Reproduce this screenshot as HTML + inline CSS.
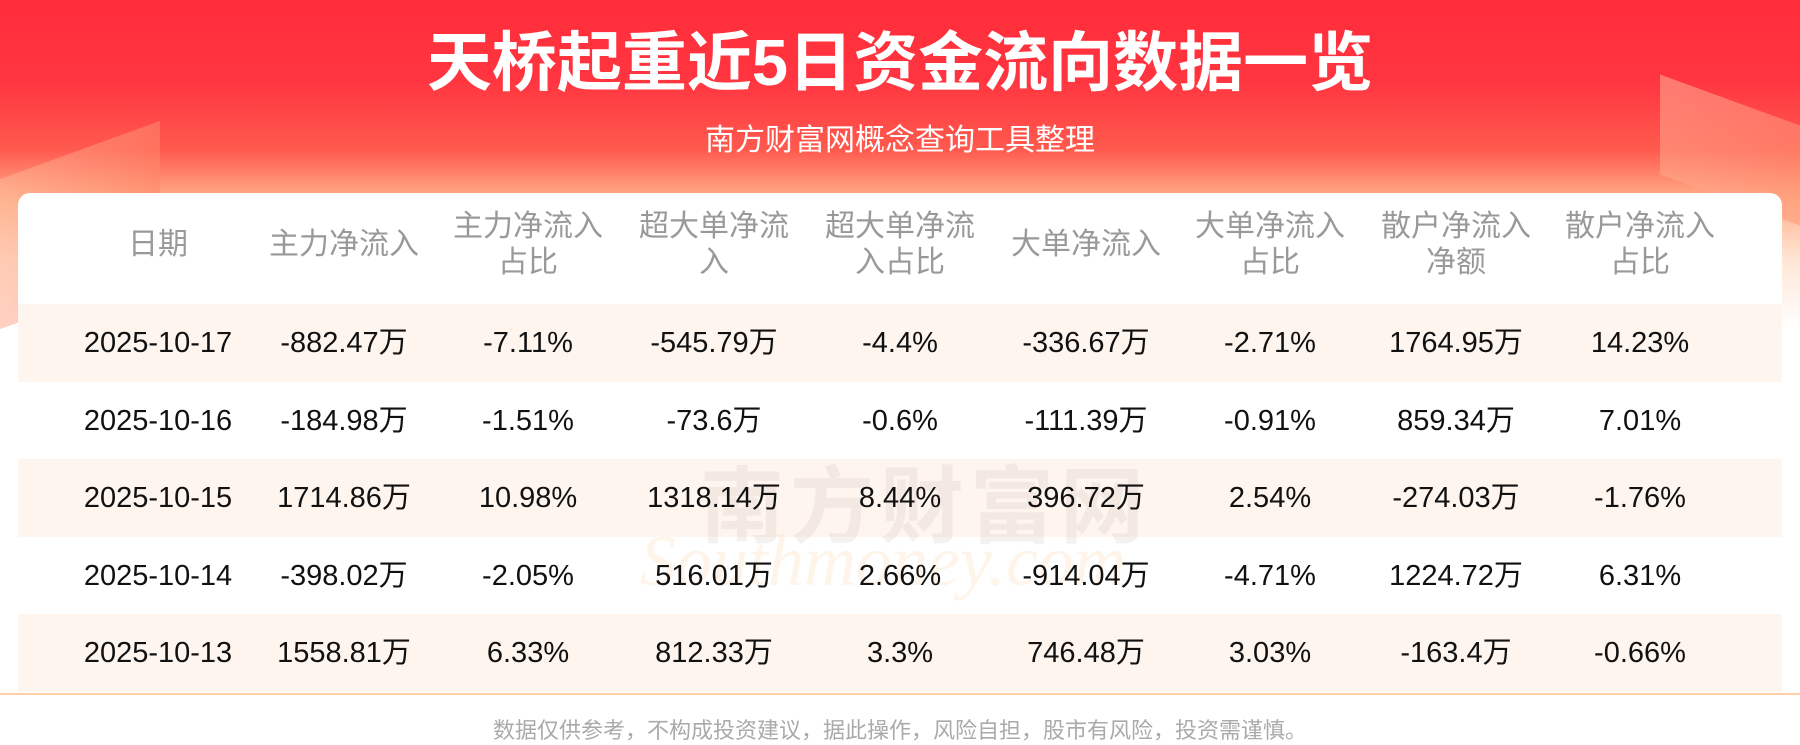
<!DOCTYPE html>
<html><head><meta charset="utf-8"><style>
*{margin:0;padding:0;box-sizing:border-box}
body{width:1800px;height:743px;overflow:hidden;background:#fff;font-family:"Liberation Sans","Noto Sans CJK SC",sans-serif;position:relative}
.bg{position:absolute;left:0;top:0;width:1800px;height:330px;background:linear-gradient(180deg,#ff2d3a 0px,#ff3540 80px,#ff5a4e 150px,#ffb08a 200px,#ffe6d6 260px,#fff 330px)}
.deco1{position:absolute;left:0;top:150px;width:160px;height:150px;background:linear-gradient(135deg,#ffc0a0,#ff7050);opacity:.45;transform:skewY(-20deg)}
.deco2{position:absolute;right:0;top:100px;width:140px;height:100px;background:linear-gradient(135deg,#ffd0b0,#ff8a6a);opacity:.45;transform:skewY(20deg)}
.title{position:absolute;top:26px;left:0;width:1800px;text-align:center;color:#fff;font-size:65px;font-weight:bold;line-height:74px}
.sub{position:absolute;top:123px;left:0;width:1800px;text-align:center;color:#fff;font-size:30px;line-height:36px}
.card{position:absolute;left:18px;top:193px;width:1764px;height:502px;background:#fff;border-radius:12px 12px 0 0}
.cell{position:absolute;width:200px;text-align:center;transform:translateX(-50%);white-space:nowrap}
.h{color:#999;font-size:30px;line-height:36px}
.d{color:#111;font-size:29px;line-height:34px}
.band{position:absolute;left:18px;width:1764px;height:78px;background:#fdf5ee}
.line{position:absolute;left:0;top:693px;width:1800px;height:2px;background:#ffd0a8}
.foot{position:absolute;top:713px;left:0;width:1800px;text-align:center;color:#aaa;font-size:22px}
.wm{position:absolute;left:700px;top:440px;font-size:84px;color:rgba(200,180,170,.18);font-weight:bold;letter-spacing:6px}
.wm2{position:absolute;left:640px;top:520px;font-size:72px;color:rgba(255,200,150,.2);font-style:italic;font-family:"Liberation Serif",serif}
</style></head><body>
<div class="bg"></div><div class="deco1"></div><div class="deco2"></div>
<div class="title">天桥起重近5日资金流向数据一览</div>
<div class="sub">南方财富网概念查询工具整理</div>
<div class="card"></div>
<div class="band" style="top:304px"></div>
<div class="band" style="top:459px"></div>
<div class="band" style="top:614px"></div>
<div class="wm">南方财富网</div>
<div class="wm2">Southmoney.com</div>
<div id="t"></div>
<div class="line"></div>
<div class="foot">数据仅供参考，不构成投资建议，据此操作，风险自担，股市有风险，投资需谨慎。</div>
<script>
var xs=[158,344,528,714,900,1086,1270,1456,1640];
var hd=["日期","主力净流入","主力净流入<br>占比","超大单净流<br>入","超大单净流<br>入占比","大单净流入","大单净流入<br>占比","散户净流入<br>净额","散户净流入<br>占比"];
var rows=[
["2025-10-17","-882.47万","-7.11%","-545.79万","-4.4%","-336.67万","-2.71%","1764.95万","14.23%"],
["2025-10-16","-184.98万","-1.51%","-73.6万","-0.6%","-111.39万","-0.91%","859.34万","7.01%"],
["2025-10-15","1714.86万","10.98%","1318.14万","8.44%","396.72万","2.54%","-274.03万","-1.76%"],
["2025-10-14","-398.02万","-2.05%","516.01万","2.66%","-914.04万","-4.71%","1224.72万","6.31%"],
["2025-10-13","1558.81万","6.33%","812.33万","3.3%","746.48万","3.03%","-163.4万","-0.66%"]];
var h="";
for(var i=0;i<9;i++){var two=hd[i].indexOf("<br>")>=0;h+='<div class="cell h" style="left:'+xs[i]+'px;top:'+(two?209:227)+'px">'+hd[i]+'</div>';}
for(var r=0;r<5;r++)for(var i=0;i<9;i++)h+='<div class="cell d" style="left:'+xs[i]+'px;top:'+(304+r*77.5+22)+'px">'+rows[r][i]+'</div>';
document.getElementById("t").innerHTML=h;
</script>
</body></html>
